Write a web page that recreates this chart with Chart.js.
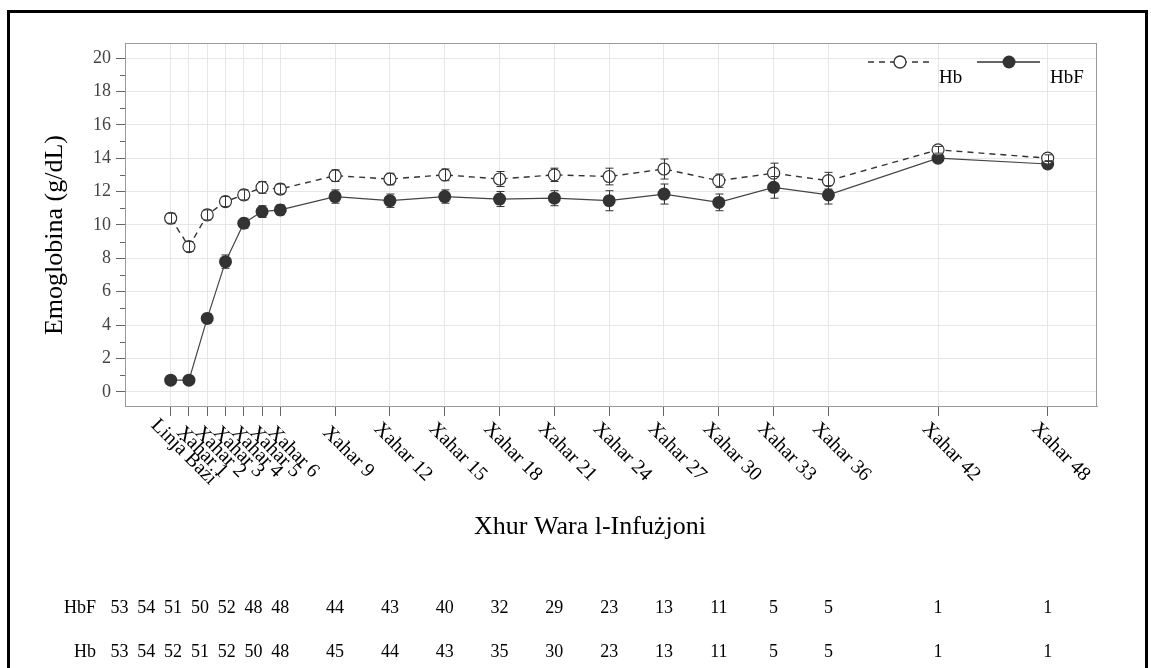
<!DOCTYPE html>
<html>
<head>
<meta charset="utf-8">
<script src="https://cdn.jsdelivr.net/npm/chart.js@4.4.1/dist/chart.umd.min.js"></script>
<style>
  html, body { margin: 0; padding: 0; background: #fff; }
  canvas { display: block; }
</style>
</head>
<body>
<canvas id="hbchart" width="1151" height="668"></canvas>
<script>
// months after infusion and their axis labels
const months = [0, 1, 2, 3, 4, 5, 6, 9, 12, 15, 18, 21, 24, 27, 30, 33, 36, 42, 48];
const monthLabels = ['Linja Bażi', 'Xahar 1', 'Xahar 2', 'Xahar 3', 'Xahar 4', 'Xahar 5', 'Xahar 6',
  'Xahar 9', 'Xahar 12', 'Xahar 15', 'Xahar 18', 'Xahar 21', 'Xahar 24', 'Xahar 27',
  'Xahar 30', 'Xahar 33', 'Xahar 36', 'Xahar 42', 'Xahar 48'];

// mean values (g/dL) and error bar half widths
const hbValues  = [10.4, 8.7, 10.6, 11.4, 11.8, 12.25, 12.15, 12.95, 12.75, 13.0, 12.75, 13.0, 12.9, 13.35, 12.65, 13.1, 12.65, 14.5, 14.0];
const hbErr     = [0.3, 0.3, 0.3, 0.3, 0.3, 0.35, 0.3, 0.35, 0.35, 0.35, 0.45, 0.4, 0.5, 0.6, 0.4, 0.6, 0.5, 0.2, 0.2];
const hbfValues = [0.7, 0.7, 4.4, 7.8, 10.1, 10.8, 10.9, 11.7, 11.45, 11.7, 11.55, 11.6, 11.45, 11.85, 11.35, 12.25, 11.8, 14.0, 13.65];
const hbfErr    = [0.2, 0.2, 0.3, 0.4, 0.3, 0.35, 0.3, 0.4, 0.4, 0.4, 0.45, 0.45, 0.6, 0.6, 0.5, 0.65, 0.55, 0.2, 0.2];

// number of patients at each visit
const hbfCounts = [53, 54, 51, 50, 52, 48, 48, 44, 43, 40, 32, 29, 23, 13, 11, 5, 5, 1, 1];
const hbCounts  = [53, 54, 52, 51, 52, 50, 48, 45, 44, 43, 35, 30, 23, 13, 11, 5, 5, 1, 1];

const yTicks = [0, 2, 4, 6, 8, 10, 12, 14, 16, 18, 20];

const serif = '"Liberation Serif", "DejaVu Serif", serif';
const ink = '#333';

function toPoints(vals) {
  return months.map((m, i) => ({ x: m, y: vals[i] }));
}

const extras = {
  id: 'extras',
  afterDatasetsDraw(chart) {
    const ctx = chart.ctx, xs = chart.scales.x, ys = chart.scales.y;
    const sets = [[hbValues, hbErr], [hbfValues, hbfErr]];
    ctx.save();
    ctx.strokeStyle = ink;
    ctx.lineWidth = 1;
    sets.forEach(([vals, errs]) => {
      vals.forEach((v, i) => {
        const x = Math.round(xs.getPixelForValue(months[i])) + 0.5;
        const y1 = ys.getPixelForValue(v - errs[i]);
        const y2 = ys.getPixelForValue(v + errs[i]);
        ctx.beginPath();
        ctx.moveTo(x, y1); ctx.lineTo(x, y2);
        ctx.moveTo(x - 4, y1); ctx.lineTo(x + 4, y1);
        ctx.moveTo(x - 4, y2); ctx.lineTo(x + 4, y2);
        ctx.stroke();
      });
    });
    ctx.restore();
  },
  afterDraw(chart) {
    const ctx = chart.ctx, xs = chart.scales.x, ys = chart.scales.y;
    const a = chart.chartArea;
    ctx.save();

    // plot frame
    ctx.strokeStyle = '#999';
    ctx.lineWidth = 1;
    ctx.strokeRect(Math.round(a.left) + 0.5, Math.round(a.top) + 0.5,
      Math.round(a.right - a.left) - 1, Math.round(a.bottom - a.top));

    // minor ticks on y axis
    ctx.strokeStyle = '#666';
    for (let v = 1; v < 20; v += 2) {
      const y = Math.round(ys.getPixelForValue(v)) + 0.5;
      ctx.beginPath();
      ctx.moveTo(a.left - 5, y); ctx.lineTo(a.left, y);
      ctx.stroke();
    }

    // y axis title
    ctx.fillStyle = '#000';
    ctx.textAlign = 'center';
    ctx.textBaseline = 'middle';
    ctx.save();
    ctx.translate(55, 235);
    ctx.rotate(-Math.PI / 2);
    ctx.font = '26px ' + serif;
    ctx.fillText('Emoglobina (g/dL)', 0, 0);
    ctx.restore();

    // rotated month labels
    ctx.font = '20px ' + serif;
    months.forEach((m, i) => {
      ctx.save();
      ctx.translate(xs.getPixelForValue(m) + 13, 452);
      ctx.rotate(Math.PI / 4);
      ctx.fillText(monthLabels[i], 0, 0);
      ctx.restore();
    });

    // x axis title
    ctx.font = '26px ' + serif;
    ctx.fillText('Xhur Wara l-Infużjoni', 590, 527);

    // patients table
    ctx.font = '18px ' + serif;
    const x6 = xs.getPixelForValue(6);
    const colX = months.map((m, i) => i < 7 ? x6 - (6 - i) * 26.8 : xs.getPixelForValue(m));
    [[hbfCounts, 'HbF', 608], [hbCounts, 'Hb', 652]].forEach(([counts, name, y]) => {
      ctx.textAlign = 'right';
      ctx.fillText(name, 96, y);
      ctx.textAlign = 'center';
      counts.forEach((c, i) => ctx.fillText(String(c), colX[i], y));
    });

    // legend
    ctx.strokeStyle = ink;
    ctx.lineWidth = 1.3;
    ctx.setLineDash([6, 5]);
    ctx.beginPath(); ctx.moveTo(868, 62); ctx.lineTo(931, 62); ctx.stroke();
    ctx.setLineDash([]);
    ctx.beginPath(); ctx.moveTo(977, 62); ctx.lineTo(1040, 62); ctx.stroke();
    ctx.fillStyle = '#fff';
    ctx.beginPath(); ctx.arc(900, 62, 6, 0, Math.PI * 2); ctx.fill(); ctx.stroke();
    ctx.fillStyle = ink;
    ctx.beginPath(); ctx.arc(1009, 62, 6.5, 0, Math.PI * 2); ctx.fill();
    ctx.fillStyle = '#000';
    ctx.textAlign = 'left';
    ctx.font = '19px ' + serif;
    ctx.fillText('Hb', 939, 78);
    ctx.fillText('HbF', 1050, 78);

    // outer figure border
    ctx.fillRect(7, 10, 1141, 3);
    ctx.fillRect(7, 10, 3, 658);
    ctx.fillRect(1145, 10, 3, 658);

    ctx.restore();
  }
};

const ctx = document.getElementById('hbchart').getContext('2d');
const hbChart = new Chart(ctx, {
  type: 'line',
  data: {
    datasets: [
      {
        label: 'Hb',
        data: toPoints(hbValues),
        borderColor: ink,
        borderWidth: 1.4,
        borderDash: [6, 5],
        pointRadius: 6,
        pointBorderWidth: 1.2,
        pointBackgroundColor: '#fff',
        pointBorderColor: ink,
        tension: 0
      },
      {
        label: 'HbF',
        data: toPoints(hbfValues),
        borderColor: '#444',
        borderWidth: 1.2,
        pointRadius: 6.5,
        pointBorderWidth: 0,
        pointBackgroundColor: ink,
        pointBorderColor: ink,
        tension: 0
      }
    ]
  },
  options: {
    responsive: false,
    animation: false,
    devicePixelRatio: 1,
    layout: { padding: { top: 43, right: 54, bottom: 252, left: 0 } },
    plugins: {
      legend: { display: false },
      tooltip: { enabled: false }
    },
    scales: {
      x: {
        type: 'linear',
        min: -2.5,
        max: 50.7,
        afterBuildTicks: s => { s.ticks = months.map(v => ({ value: v })); },
        afterFit: s => { s.height = 10; },
        ticks: { display: false },
        grid: { color: '#e6e6e6', tickColor: '#666', tickLength: 10 },
        border: { color: '#999' }
      },
      y: {
        min: -0.85,
        max: 20.9,
        afterBuildTicks: s => { s.ticks = yTicks.map(v => ({ value: v })); },
        afterFit: s => { s.width = 125; },
        ticks: { color: '#444', padding: 5, font: { family: serif, size: 18 } },
        grid: { color: '#e6e6e6', tickColor: '#666', tickLength: 9 },
        border: { color: '#999' }
      }
    }
  },
  plugins: [extras]
});
</script>
</body>
</html>
